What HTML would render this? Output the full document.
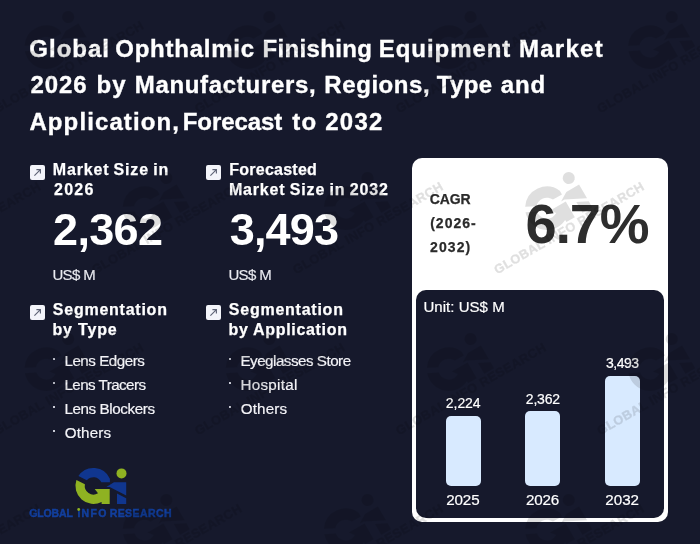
<!DOCTYPE html>
<html><head><meta charset="utf-8"><title>Global Ophthalmic Finishing Equipment Market</title>
<style>
html,body{margin:0;padding:0}
body{width:700px;height:544px;overflow:hidden;background:#16192c;position:relative;font-family:"Liberation Sans",sans-serif}
.t{position:absolute;white-space:nowrap;line-height:1}
.ic{position:absolute;display:block}
.bu{position:absolute;width:2px;height:2px;background:#c9cbd6}
.card{position:absolute;left:412px;top:158px;width:256px;height:364px;background:#fff;border-radius:10px}
.panel{position:absolute;left:416px;top:290px;width:248px;height:228px;background:#16192c;border-radius:10px}
.bar{position:absolute;width:35px;background:#d8eaff;border-radius:5px}
</style></head><body>
<div class="card"></div>
<div class="panel"></div>
<div class="bar" style="left:446px;top:416px;height:70px"></div>
<div class="bar" style="left:525px;top:411px;height:75px"></div>
<div class="bar" style="left:604.5px;top:376px;height:110px"></div>
<svg class="ic" style="left:30px;top:165px" width="15" height="15" viewBox="0 0 15 15"><rect width="15" height="15" rx="2" fill="#f3f4fa"/><path d="M4.4 10.6 L10.4 4.6 M6.4 4.6 H10.4 V8.6" fill="none" stroke="#5f6477" stroke-width="1.15" stroke-linecap="butt" stroke-linejoin="miter"/></svg><svg class="ic" style="left:206px;top:165px" width="15" height="15" viewBox="0 0 15 15"><rect width="15" height="15" rx="2" fill="#f3f4fa"/><path d="M4.4 10.6 L10.4 4.6 M6.4 4.6 H10.4 V8.6" fill="none" stroke="#5f6477" stroke-width="1.15" stroke-linecap="butt" stroke-linejoin="miter"/></svg><svg class="ic" style="left:30px;top:305px" width="15" height="15" viewBox="0 0 15 15"><rect width="15" height="15" rx="2" fill="#f3f4fa"/><path d="M4.4 10.6 L10.4 4.6 M6.4 4.6 H10.4 V8.6" fill="none" stroke="#5f6477" stroke-width="1.15" stroke-linecap="butt" stroke-linejoin="miter"/></svg><svg class="ic" style="left:206px;top:305px" width="15" height="15" viewBox="0 0 15 15"><rect width="15" height="15" rx="2" fill="#f3f4fa"/><path d="M4.4 10.6 L10.4 4.6 M6.4 4.6 H10.4 V8.6" fill="none" stroke="#5f6477" stroke-width="1.15" stroke-linecap="butt" stroke-linejoin="miter"/></svg>
<div class="bu" style="left:52.8px;top:358px"></div><div class="bu" style="left:52.8px;top:382px"></div><div class="bu" style="left:52.8px;top:406px"></div><div class="bu" style="left:52.8px;top:430px"></div><div class="bu" style="left:229.2px;top:358px"></div><div class="bu" style="left:229.2px;top:382px"></div><div class="bu" style="left:229.2px;top:406px"></div>
<svg class="ic" style="left:70px;top:462px" width="64" height="46" viewBox="70 462 64 46">
<path d="M78.4 476.0 A18.0 18.0 0 0 1 109.9 478.7 L109.9 482.3 L101.3 482.3 A8.7 8.7 0 0 0 86.8 480.2 Z" fill="#10368f"/><path d="M76.4 480.0 L84.9 484.3 A8.7 8.7 0 0 0 98.0 493.3 L94.7 488.9 L109.7 488.9 L109.7 503.9 L101.6 503.9 L101.6 501.9 A18.0 18.0 0 0 1 76.4 480.0 Z" fill="#8fb222"/>
<circle cx="121.5" cy="473.4" r="5" fill="#8fb222"/>
<path d="M106.3 487 L114 482.3 L126.2 482.3 L126.2 495.5 L109.7 487 Z" fill="#10368f"/><path d="M117 493.6 L126.2 498.3 L126.2 503.9 L117 503.9 Z" fill="#10368f"/>
</svg>
<div class="t" style="left:29.30px;top:36.98px;font-size:24px;font-weight:700;color:#fff;-webkit-text-stroke:0.35px #fff;letter-spacing:0.997px">Global</div>
<div class="t" style="left:115.30px;top:36.98px;font-size:24px;font-weight:700;color:#fff;-webkit-text-stroke:0.35px #fff;letter-spacing:0.746px">Ophthalmic</div>
<div class="t" style="left:262.58px;top:36.98px;font-size:24px;font-weight:700;color:#fff;-webkit-text-stroke:0.35px #fff;letter-spacing:0.327px">Finishing</div>
<div class="t" style="left:378.78px;top:36.98px;font-size:24px;font-weight:700;color:#fff;-webkit-text-stroke:0.35px #fff;letter-spacing:0.943px">Equipment</div>
<div class="t" style="left:518.88px;top:36.98px;font-size:24px;font-weight:700;color:#fff;-webkit-text-stroke:0.35px #fff;letter-spacing:1.300px">Market</div>
<div class="t" style="left:30.47px;top:73.18px;font-size:24px;font-weight:700;color:#fff;-webkit-text-stroke:0.35px #fff;letter-spacing:0.929px">2026</div>
<div class="t" style="left:96.39px;top:73.18px;font-size:24px;font-weight:700;color:#fff;-webkit-text-stroke:0.35px #fff;letter-spacing:1.300px">by</div>
<div class="t" style="left:134.73px;top:73.18px;font-size:24px;font-weight:700;color:#fff;-webkit-text-stroke:0.35px #fff;letter-spacing:0.685px">Manufacturers,</div>
<div class="t" style="left:324.37px;top:73.18px;font-size:24px;font-weight:700;color:#fff;-webkit-text-stroke:0.35px #fff;letter-spacing:0.560px">Regions,</div>
<div class="t" style="left:436.75px;top:73.18px;font-size:24px;font-weight:700;color:#fff;-webkit-text-stroke:0.35px #fff;letter-spacing:0.355px">Type</div>
<div class="t" style="left:500.81px;top:73.18px;font-size:24px;font-weight:700;color:#fff;-webkit-text-stroke:0.35px #fff;letter-spacing:0.844px">and</div>
<div class="t" style="left:29.42px;top:109.98px;font-size:24px;font-weight:700;color:#fff;-webkit-text-stroke:0.35px #fff;letter-spacing:1.107px">Application,</div>
<div class="t" style="left:182.78px;top:109.98px;font-size:24px;font-weight:700;color:#fff;-webkit-text-stroke:0.35px #fff;letter-spacing:-0.080px">Forecast</div>
<div class="t" style="left:292.32px;top:109.98px;font-size:24px;font-weight:700;color:#fff;-webkit-text-stroke:0.35px #fff;letter-spacing:1.300px">to</div>
<div class="t" style="left:325.14px;top:109.98px;font-size:24px;font-weight:700;color:#fff;-webkit-text-stroke:0.35px #fff;letter-spacing:1.300px">2032</div>
<div class="t" style="left:52.76px;top:161.96px;font-size:16px;font-weight:700;color:#fff;-webkit-text-stroke:0.25px #fff;letter-spacing:0.831px;word-spacing:-1px">Market Size in</div>
<div class="t" style="left:53.94px;top:182.06px;font-size:16px;font-weight:700;color:#fff;-webkit-text-stroke:0.25px #fff;letter-spacing:1.300px">2026</div>
<div class="t" style="left:229.27px;top:161.96px;font-size:16px;font-weight:700;color:#fff;-webkit-text-stroke:0.25px #fff;letter-spacing:0.248px">Forecasted</div>
<div class="t" style="left:228.88px;top:182.06px;font-size:16px;font-weight:700;color:#fff;-webkit-text-stroke:0.25px #fff;letter-spacing:0.845px;word-spacing:-1px">Market Size in 2032</div>
<div class="t" style="left:53.09px;top:207.21px;font-size:45px;font-weight:700;color:#fff;letter-spacing:-0.682px">2,362</div>
<div class="t" style="left:229.69px;top:207.21px;font-size:45px;font-weight:700;color:#fff;letter-spacing:-0.830px">3,493</div>
<div class="t" style="left:52.40px;top:267.30px;font-size:15px;font-weight:400;color:#eaebf1;-webkit-text-stroke:0.15px #eaebf1;letter-spacing:-0.619px">US$ M</div>
<div class="t" style="left:228.40px;top:267.30px;font-size:15px;font-weight:400;color:#eaebf1;-webkit-text-stroke:0.15px #eaebf1;letter-spacing:-0.619px">US$ M</div>
<div class="t" style="left:52.87px;top:302.36px;font-size:16px;font-weight:700;color:#fff;-webkit-text-stroke:0.25px #fff;letter-spacing:0.752px">Segmentation</div>
<div class="t" style="left:52.43px;top:322.36px;font-size:16px;font-weight:700;color:#fff;-webkit-text-stroke:0.25px #fff;letter-spacing:0.821px">by Type</div>
<div class="t" style="left:228.87px;top:302.36px;font-size:16px;font-weight:700;color:#fff;-webkit-text-stroke:0.25px #fff;letter-spacing:0.752px">Segmentation</div>
<div class="t" style="left:228.43px;top:322.36px;font-size:16px;font-weight:700;color:#fff;-webkit-text-stroke:0.25px #fff;letter-spacing:0.681px">by Application</div>
<div class="t" style="left:64.43px;top:353.13px;font-size:15.2px;font-weight:400;color:#f4f4f8;-webkit-text-stroke:0.2px #f4f4f8;letter-spacing:-0.476px">Lens Edgers</div>
<div class="t" style="left:64.43px;top:377.13px;font-size:15.2px;font-weight:400;color:#f4f4f8;-webkit-text-stroke:0.2px #f4f4f8;letter-spacing:-0.560px">Lens Tracers</div>
<div class="t" style="left:64.43px;top:401.13px;font-size:15.2px;font-weight:400;color:#f4f4f8;-webkit-text-stroke:0.2px #f4f4f8;letter-spacing:-0.397px">Lens Blockers</div>
<div class="t" style="left:64.78px;top:425.13px;font-size:15.2px;font-weight:400;color:#f4f4f8;-webkit-text-stroke:0.2px #f4f4f8;letter-spacing:0.133px">Others</div>
<div class="t" style="left:240.43px;top:353.13px;font-size:15.2px;font-weight:400;color:#f4f4f8;-webkit-text-stroke:0.2px #f4f4f8;letter-spacing:-0.502px">Eyeglasses Store</div>
<div class="t" style="left:240.43px;top:377.13px;font-size:15.2px;font-weight:400;color:#f4f4f8;-webkit-text-stroke:0.2px #f4f4f8;letter-spacing:0.301px">Hospital</div>
<div class="t" style="left:240.78px;top:401.13px;font-size:15.2px;font-weight:400;color:#f4f4f8;-webkit-text-stroke:0.2px #f4f4f8;letter-spacing:0.133px">Others</div>
<div class="t" style="left:429.87px;top:192.15px;font-size:14px;font-weight:700;color:#2b2b2b;-webkit-text-stroke:0.25px #2b2b2b;letter-spacing:-0.137px">CAGR</div>
<div class="t" style="left:430.22px;top:216.15px;font-size:14px;font-weight:700;color:#2b2b2b;-webkit-text-stroke:0.25px #2b2b2b;letter-spacing:0.980px">(2026-</div>
<div class="t" style="left:430.09px;top:240.15px;font-size:14px;font-weight:700;color:#2b2b2b;-webkit-text-stroke:0.25px #2b2b2b;letter-spacing:1.072px">2032)</div>
<div class="t" style="left:525.44px;top:196.10px;font-size:56px;font-weight:700;color:#2e2e2e;letter-spacing:-1.170px">6.7%</div>
<div class="t" style="left:423.40px;top:299.30px;font-size:15px;font-weight:400;color:#fff;-webkit-text-stroke:0.2px #fff;letter-spacing:0.040px">Unit: US$ M</div>
<div class="t" style="left:445.83px;top:396.15px;font-size:14px;font-weight:400;color:#fff;-webkit-text-stroke:0.2px #fff;letter-spacing:-0.058px">2,224</div>
<div class="t" style="left:525.83px;top:392.15px;font-size:14px;font-weight:400;color:#fff;-webkit-text-stroke:0.2px #fff;letter-spacing:-0.202px">2,362</div>
<div class="t" style="left:605.90px;top:356.15px;font-size:14px;font-weight:400;color:#fff;-webkit-text-stroke:0.2px #fff;letter-spacing:-0.454px">3,493</div>
<div class="t" style="left:446.32px;top:492.13px;font-size:15.2px;font-weight:400;color:#fff;-webkit-text-stroke:0.2px #fff;letter-spacing:-0.173px">2025</div>
<div class="t" style="left:525.88px;top:492.13px;font-size:15.2px;font-weight:400;color:#fff;-webkit-text-stroke:0.2px #fff;letter-spacing:-0.120px">2026</div>
<div class="t" style="left:605.32px;top:492.13px;font-size:15.2px;font-weight:400;color:#fff;-webkit-text-stroke:0.2px #fff;letter-spacing:-0.040px">2032</div>
<div class="t" style="left:29.23px;top:507.71px;font-size:10.5px;font-weight:700;color:#123f9e;-webkit-text-stroke:0.45px #123f9e;letter-spacing:-0.149px">GLOBAL</div>
<div class="t" style="left:77.40px;top:507.71px;font-size:10.5px;font-weight:700;color:#123f9e;-webkit-text-stroke:0.45px #123f9e;letter-spacing:1.300px">INFO</div>
<div class="t" style="left:109.72px;top:507.71px;font-size:10.5px;font-weight:700;color:#123f9e;-webkit-text-stroke:0.45px #123f9e;letter-spacing:0.406px">RESEARCH</div>
<svg class="ic" style="left:76px;top:506px" width="6" height="6" viewBox="76 506 6 6"><rect x="76.8" y="507" width="4" height="4.1" fill="#16192c"/><circle cx="78.7" cy="509.5" r="1.4" fill="#8fb222"/></svg>
<svg class="ic" style="left:0;top:0;pointer-events:none" width="700" height="544" viewBox="0 0 700 544" fill="#000" opacity="0.12" font-family="Liberation Sans, sans-serif"><g transform="translate(-3.3 113.5) rotate(-30) scale(1.21) translate(-30 -516.5)"><g transform="translate(-0.5 3.6)"><path d="M78.4 476.0 A18.0 18.0 0 0 1 109.9 478.7 L109.9 482.3 L101.3 482.3 A8.7 8.7 0 0 0 86.8 480.2 Z"/><path d="M76.4 480.0 L84.9 484.3 A8.7 8.7 0 0 0 98.0 493.3 L94.7 488.9 L109.7 488.9 L109.7 503.9 L101.6 503.9 L101.6 501.9 A18.0 18.0 0 0 1 76.4 480.0 Z"/><circle cx="121.5" cy="473.4" r="5"/><path d="M106.3 487 L114 482.3 L126.2 482.3 L126.2 495.5 L109.7 487 Z"/><path d="M117 493.6 L126.2 498.3 L126.2 503.9 L117 503.9 Z"/></g><text x="30" y="516.5" font-size="10.5" font-weight="700" textLength="141" lengthAdjust="spacing" stroke="#000" stroke-width="0.35">GLOBAL INFO RESEARCH</text></g><g transform="translate(197.9 113.5) rotate(-30) scale(1.21) translate(-30 -516.5)"><g transform="translate(-0.5 3.6)"><path d="M78.4 476.0 A18.0 18.0 0 0 1 109.9 478.7 L109.9 482.3 L101.3 482.3 A8.7 8.7 0 0 0 86.8 480.2 Z"/><path d="M76.4 480.0 L84.9 484.3 A8.7 8.7 0 0 0 98.0 493.3 L94.7 488.9 L109.7 488.9 L109.7 503.9 L101.6 503.9 L101.6 501.9 A18.0 18.0 0 0 1 76.4 480.0 Z"/><circle cx="121.5" cy="473.4" r="5"/><path d="M106.3 487 L114 482.3 L126.2 482.3 L126.2 495.5 L109.7 487 Z"/><path d="M117 493.6 L126.2 498.3 L126.2 503.9 L117 503.9 Z"/></g><text x="30" y="516.5" font-size="10.5" font-weight="700" textLength="141" lengthAdjust="spacing" stroke="#000" stroke-width="0.35">GLOBAL INFO RESEARCH</text></g><g transform="translate(399.1 113.5) rotate(-30) scale(1.21) translate(-30 -516.5)"><g transform="translate(-0.5 3.6)"><path d="M78.4 476.0 A18.0 18.0 0 0 1 109.9 478.7 L109.9 482.3 L101.3 482.3 A8.7 8.7 0 0 0 86.8 480.2 Z"/><path d="M76.4 480.0 L84.9 484.3 A8.7 8.7 0 0 0 98.0 493.3 L94.7 488.9 L109.7 488.9 L109.7 503.9 L101.6 503.9 L101.6 501.9 A18.0 18.0 0 0 1 76.4 480.0 Z"/><circle cx="121.5" cy="473.4" r="5"/><path d="M106.3 487 L114 482.3 L126.2 482.3 L126.2 495.5 L109.7 487 Z"/><path d="M117 493.6 L126.2 498.3 L126.2 503.9 L117 503.9 Z"/></g><text x="30" y="516.5" font-size="10.5" font-weight="700" textLength="141" lengthAdjust="spacing" stroke="#000" stroke-width="0.35">GLOBAL INFO RESEARCH</text></g><g transform="translate(600.3 113.5) rotate(-30) scale(1.21) translate(-30 -516.5)"><g transform="translate(-0.5 3.6)"><path d="M78.4 476.0 A18.0 18.0 0 0 1 109.9 478.7 L109.9 482.3 L101.3 482.3 A8.7 8.7 0 0 0 86.8 480.2 Z"/><path d="M76.4 480.0 L84.9 484.3 A8.7 8.7 0 0 0 98.0 493.3 L94.7 488.9 L109.7 488.9 L109.7 503.9 L101.6 503.9 L101.6 501.9 A18.0 18.0 0 0 1 76.4 480.0 Z"/><circle cx="121.5" cy="473.4" r="5"/><path d="M106.3 487 L114 482.3 L126.2 482.3 L126.2 495.5 L109.7 487 Z"/><path d="M117 493.6 L126.2 498.3 L126.2 503.9 L117 503.9 Z"/></g><text x="30" y="516.5" font-size="10.5" font-weight="700" textLength="141" lengthAdjust="spacing" stroke="#000" stroke-width="0.35">GLOBAL INFO RESEARCH</text></g><g transform="translate(-106.3 274.5) rotate(-30) scale(1.21) translate(-30 -516.5)"><g transform="translate(-0.5 3.6)"><path d="M78.4 476.0 A18.0 18.0 0 0 1 109.9 478.7 L109.9 482.3 L101.3 482.3 A8.7 8.7 0 0 0 86.8 480.2 Z"/><path d="M76.4 480.0 L84.9 484.3 A8.7 8.7 0 0 0 98.0 493.3 L94.7 488.9 L109.7 488.9 L109.7 503.9 L101.6 503.9 L101.6 501.9 A18.0 18.0 0 0 1 76.4 480.0 Z"/><circle cx="121.5" cy="473.4" r="5"/><path d="M106.3 487 L114 482.3 L126.2 482.3 L126.2 495.5 L109.7 487 Z"/><path d="M117 493.6 L126.2 498.3 L126.2 503.9 L117 503.9 Z"/></g><text x="30" y="516.5" font-size="10.5" font-weight="700" textLength="141" lengthAdjust="spacing" stroke="#000" stroke-width="0.35">GLOBAL INFO RESEARCH</text></g><g transform="translate(94.9 274.5) rotate(-30) scale(1.21) translate(-30 -516.5)"><g transform="translate(-0.5 3.6)"><path d="M78.4 476.0 A18.0 18.0 0 0 1 109.9 478.7 L109.9 482.3 L101.3 482.3 A8.7 8.7 0 0 0 86.8 480.2 Z"/><path d="M76.4 480.0 L84.9 484.3 A8.7 8.7 0 0 0 98.0 493.3 L94.7 488.9 L109.7 488.9 L109.7 503.9 L101.6 503.9 L101.6 501.9 A18.0 18.0 0 0 1 76.4 480.0 Z"/><circle cx="121.5" cy="473.4" r="5"/><path d="M106.3 487 L114 482.3 L126.2 482.3 L126.2 495.5 L109.7 487 Z"/><path d="M117 493.6 L126.2 498.3 L126.2 503.9 L117 503.9 Z"/></g><text x="30" y="516.5" font-size="10.5" font-weight="700" textLength="141" lengthAdjust="spacing" stroke="#000" stroke-width="0.35">GLOBAL INFO RESEARCH</text></g><g transform="translate(296.1 274.5) rotate(-30) scale(1.21) translate(-30 -516.5)"><g transform="translate(-0.5 3.6)"><path d="M78.4 476.0 A18.0 18.0 0 0 1 109.9 478.7 L109.9 482.3 L101.3 482.3 A8.7 8.7 0 0 0 86.8 480.2 Z"/><path d="M76.4 480.0 L84.9 484.3 A8.7 8.7 0 0 0 98.0 493.3 L94.7 488.9 L109.7 488.9 L109.7 503.9 L101.6 503.9 L101.6 501.9 A18.0 18.0 0 0 1 76.4 480.0 Z"/><circle cx="121.5" cy="473.4" r="5"/><path d="M106.3 487 L114 482.3 L126.2 482.3 L126.2 495.5 L109.7 487 Z"/><path d="M117 493.6 L126.2 498.3 L126.2 503.9 L117 503.9 Z"/></g><text x="30" y="516.5" font-size="10.5" font-weight="700" textLength="141" lengthAdjust="spacing" stroke="#000" stroke-width="0.35">GLOBAL INFO RESEARCH</text></g><g transform="translate(497.3 274.5) rotate(-30) scale(1.21) translate(-30 -516.5)"><g transform="translate(-0.5 3.6)"><path d="M78.4 476.0 A18.0 18.0 0 0 1 109.9 478.7 L109.9 482.3 L101.3 482.3 A8.7 8.7 0 0 0 86.8 480.2 Z"/><path d="M76.4 480.0 L84.9 484.3 A8.7 8.7 0 0 0 98.0 493.3 L94.7 488.9 L109.7 488.9 L109.7 503.9 L101.6 503.9 L101.6 501.9 A18.0 18.0 0 0 1 76.4 480.0 Z"/><circle cx="121.5" cy="473.4" r="5"/><path d="M106.3 487 L114 482.3 L126.2 482.3 L126.2 495.5 L109.7 487 Z"/><path d="M117 493.6 L126.2 498.3 L126.2 503.9 L117 503.9 Z"/></g><text x="30" y="516.5" font-size="10.5" font-weight="700" textLength="141" lengthAdjust="spacing" stroke="#000" stroke-width="0.35">GLOBAL INFO RESEARCH</text></g><g transform="translate(-3.3 435.5) rotate(-30) scale(1.21) translate(-30 -516.5)"><g transform="translate(-0.5 3.6)"><path d="M78.4 476.0 A18.0 18.0 0 0 1 109.9 478.7 L109.9 482.3 L101.3 482.3 A8.7 8.7 0 0 0 86.8 480.2 Z"/><path d="M76.4 480.0 L84.9 484.3 A8.7 8.7 0 0 0 98.0 493.3 L94.7 488.9 L109.7 488.9 L109.7 503.9 L101.6 503.9 L101.6 501.9 A18.0 18.0 0 0 1 76.4 480.0 Z"/><circle cx="121.5" cy="473.4" r="5"/><path d="M106.3 487 L114 482.3 L126.2 482.3 L126.2 495.5 L109.7 487 Z"/><path d="M117 493.6 L126.2 498.3 L126.2 503.9 L117 503.9 Z"/></g><text x="30" y="516.5" font-size="10.5" font-weight="700" textLength="141" lengthAdjust="spacing" stroke="#000" stroke-width="0.35">GLOBAL INFO RESEARCH</text></g><g transform="translate(197.9 435.5) rotate(-30) scale(1.21) translate(-30 -516.5)"><g transform="translate(-0.5 3.6)"><path d="M78.4 476.0 A18.0 18.0 0 0 1 109.9 478.7 L109.9 482.3 L101.3 482.3 A8.7 8.7 0 0 0 86.8 480.2 Z"/><path d="M76.4 480.0 L84.9 484.3 A8.7 8.7 0 0 0 98.0 493.3 L94.7 488.9 L109.7 488.9 L109.7 503.9 L101.6 503.9 L101.6 501.9 A18.0 18.0 0 0 1 76.4 480.0 Z"/><circle cx="121.5" cy="473.4" r="5"/><path d="M106.3 487 L114 482.3 L126.2 482.3 L126.2 495.5 L109.7 487 Z"/><path d="M117 493.6 L126.2 498.3 L126.2 503.9 L117 503.9 Z"/></g><text x="30" y="516.5" font-size="10.5" font-weight="700" textLength="141" lengthAdjust="spacing" stroke="#000" stroke-width="0.35">GLOBAL INFO RESEARCH</text></g><g transform="translate(399.1 435.5) rotate(-30) scale(1.21) translate(-30 -516.5)"><g transform="translate(-0.5 3.6)"><path d="M78.4 476.0 A18.0 18.0 0 0 1 109.9 478.7 L109.9 482.3 L101.3 482.3 A8.7 8.7 0 0 0 86.8 480.2 Z"/><path d="M76.4 480.0 L84.9 484.3 A8.7 8.7 0 0 0 98.0 493.3 L94.7 488.9 L109.7 488.9 L109.7 503.9 L101.6 503.9 L101.6 501.9 A18.0 18.0 0 0 1 76.4 480.0 Z"/><circle cx="121.5" cy="473.4" r="5"/><path d="M106.3 487 L114 482.3 L126.2 482.3 L126.2 495.5 L109.7 487 Z"/><path d="M117 493.6 L126.2 498.3 L126.2 503.9 L117 503.9 Z"/></g><text x="30" y="516.5" font-size="10.5" font-weight="700" textLength="141" lengthAdjust="spacing" stroke="#000" stroke-width="0.35">GLOBAL INFO RESEARCH</text></g><g transform="translate(600.3 435.5) rotate(-30) scale(1.21) translate(-30 -516.5)"><g transform="translate(-0.5 3.6)"><path d="M78.4 476.0 A18.0 18.0 0 0 1 109.9 478.7 L109.9 482.3 L101.3 482.3 A8.7 8.7 0 0 0 86.8 480.2 Z"/><path d="M76.4 480.0 L84.9 484.3 A8.7 8.7 0 0 0 98.0 493.3 L94.7 488.9 L109.7 488.9 L109.7 503.9 L101.6 503.9 L101.6 501.9 A18.0 18.0 0 0 1 76.4 480.0 Z"/><circle cx="121.5" cy="473.4" r="5"/><path d="M106.3 487 L114 482.3 L126.2 482.3 L126.2 495.5 L109.7 487 Z"/><path d="M117 493.6 L126.2 498.3 L126.2 503.9 L117 503.9 Z"/></g><text x="30" y="516.5" font-size="10.5" font-weight="700" textLength="141" lengthAdjust="spacing" stroke="#000" stroke-width="0.35">GLOBAL INFO RESEARCH</text></g><g transform="translate(-106.3 596.5) rotate(-30) scale(1.21) translate(-30 -516.5)"><g transform="translate(-0.5 3.6)"><path d="M78.4 476.0 A18.0 18.0 0 0 1 109.9 478.7 L109.9 482.3 L101.3 482.3 A8.7 8.7 0 0 0 86.8 480.2 Z"/><path d="M76.4 480.0 L84.9 484.3 A8.7 8.7 0 0 0 98.0 493.3 L94.7 488.9 L109.7 488.9 L109.7 503.9 L101.6 503.9 L101.6 501.9 A18.0 18.0 0 0 1 76.4 480.0 Z"/><circle cx="121.5" cy="473.4" r="5"/><path d="M106.3 487 L114 482.3 L126.2 482.3 L126.2 495.5 L109.7 487 Z"/><path d="M117 493.6 L126.2 498.3 L126.2 503.9 L117 503.9 Z"/></g><text x="30" y="516.5" font-size="10.5" font-weight="700" textLength="141" lengthAdjust="spacing" stroke="#000" stroke-width="0.35">GLOBAL INFO RESEARCH</text></g><g transform="translate(94.9 596.5) rotate(-30) scale(1.21) translate(-30 -516.5)"><g transform="translate(-0.5 3.6)"><path d="M78.4 476.0 A18.0 18.0 0 0 1 109.9 478.7 L109.9 482.3 L101.3 482.3 A8.7 8.7 0 0 0 86.8 480.2 Z"/><path d="M76.4 480.0 L84.9 484.3 A8.7 8.7 0 0 0 98.0 493.3 L94.7 488.9 L109.7 488.9 L109.7 503.9 L101.6 503.9 L101.6 501.9 A18.0 18.0 0 0 1 76.4 480.0 Z"/><circle cx="121.5" cy="473.4" r="5"/><path d="M106.3 487 L114 482.3 L126.2 482.3 L126.2 495.5 L109.7 487 Z"/><path d="M117 493.6 L126.2 498.3 L126.2 503.9 L117 503.9 Z"/></g><text x="30" y="516.5" font-size="10.5" font-weight="700" textLength="141" lengthAdjust="spacing" stroke="#000" stroke-width="0.35">GLOBAL INFO RESEARCH</text></g><g transform="translate(296.1 596.5) rotate(-30) scale(1.21) translate(-30 -516.5)"><g transform="translate(-0.5 3.6)"><path d="M78.4 476.0 A18.0 18.0 0 0 1 109.9 478.7 L109.9 482.3 L101.3 482.3 A8.7 8.7 0 0 0 86.8 480.2 Z"/><path d="M76.4 480.0 L84.9 484.3 A8.7 8.7 0 0 0 98.0 493.3 L94.7 488.9 L109.7 488.9 L109.7 503.9 L101.6 503.9 L101.6 501.9 A18.0 18.0 0 0 1 76.4 480.0 Z"/><circle cx="121.5" cy="473.4" r="5"/><path d="M106.3 487 L114 482.3 L126.2 482.3 L126.2 495.5 L109.7 487 Z"/><path d="M117 493.6 L126.2 498.3 L126.2 503.9 L117 503.9 Z"/></g><text x="30" y="516.5" font-size="10.5" font-weight="700" textLength="141" lengthAdjust="spacing" stroke="#000" stroke-width="0.35">GLOBAL INFO RESEARCH</text></g><g transform="translate(497.3 596.5) rotate(-30) scale(1.21) translate(-30 -516.5)"><g transform="translate(-0.5 3.6)"><path d="M78.4 476.0 A18.0 18.0 0 0 1 109.9 478.7 L109.9 482.3 L101.3 482.3 A8.7 8.7 0 0 0 86.8 480.2 Z"/><path d="M76.4 480.0 L84.9 484.3 A8.7 8.7 0 0 0 98.0 493.3 L94.7 488.9 L109.7 488.9 L109.7 503.9 L101.6 503.9 L101.6 501.9 A18.0 18.0 0 0 1 76.4 480.0 Z"/><circle cx="121.5" cy="473.4" r="5"/><path d="M106.3 487 L114 482.3 L126.2 482.3 L126.2 495.5 L109.7 487 Z"/><path d="M117 493.6 L126.2 498.3 L126.2 503.9 L117 503.9 Z"/></g><text x="30" y="516.5" font-size="10.5" font-weight="700" textLength="141" lengthAdjust="spacing" stroke="#000" stroke-width="0.35">GLOBAL INFO RESEARCH</text></g></svg>
</body></html>
